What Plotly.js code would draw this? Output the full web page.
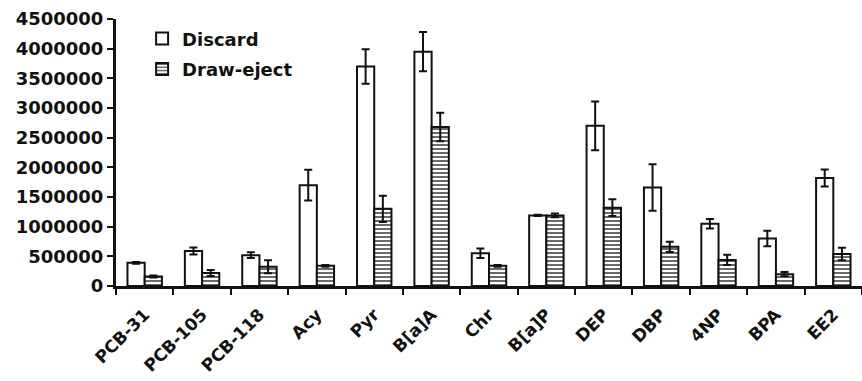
<!DOCTYPE html>
<html>
<head>
<meta charset="utf-8">
<script src="https://cdn.plot.ly/plotly-3.0.1.min.js"></script>
<style>html,body{margin:0;padding:0;background:#fff}#chart{width:862px;height:381px}</style>
</head>
<body>
<div id="chart"></div>
<script>
var categories = ["PCB-31","PCB-105","PCB-118","Acy","Pyr","B[a]A","Chr","B[a]P","DEP","DBP","4NP","BPA","EE2"];
var discard = [390000, 590000, 520000, 1700000, 3700000, 3950000, 550000, 1190000, 2700000, 1660000, 1050000, 800000, 1820000];
var discardErr = [15000, 60000, 50000, 260000, 290000, 330000, 80000, 10000, 410000, 390000, 80000, 130000, 145000];
var drawEject = [160000, 220000, 325000, 340000, 1300000, 2680000, 340000, 1190000, 1320000, 660000, 440000, 200000, 540000];
var drawEjectErr = [15000, 50000, 110000, 15000, 220000, 240000, 15000, 30000, 140000, 85000, 85000, 35000, 105000];
var yTicks = [0, 500000, 1000000, 1500000, 2000000, 2500000, 3000000, 3500000, 4000000, 4500000];

var fontFam = "DejaVu Sans, sans-serif";
var traces = [
  {
    type: "bar", name: "Discard", x: categories, y: discard, legendgroup: "a",
    error_y: {type: "data", array: discardErr, visible: true, color: "#111", thickness: 2, width: 4},
    marker: {color: "#ffffff", line: {color: "#111", width: 2}}
  },
  {
    type: "bar", name: "Draw-eject", x: categories, y: drawEject, legendgroup: "b",
    error_y: {type: "data", array: drawEjectErr, visible: true, color: "#111", thickness: 2, width: 4},
    marker: {color: "#ffffff", line: {color: "#111", width: 2},
      pattern: {shape: "-", size: 4, solidity: 0.4, fgcolor: "#444", bgcolor: "#ffffff"}}
  }
];

var layout = {
  width: 862, height: 381,
  margin: {l: 116, r: 0, t: 19, b: 95},
  paper_bgcolor: "#fff", plot_bgcolor: "#fff",
  barmode: "group", bargap: 0.4, bargroupgap: 0,
  showlegend: true,
  legend: {x: 0.035, y: 0.995, xanchor: "left", yanchor: "top", bgcolor: "rgba(0,0,0,0)",
    font: {family: fontFam, size: 18, color: "#111", weight: "bold"}, itemwidth: 30, tracegroupgap: 4},
  font: {family: fontFam, size: 18, color: "#111"},
  xaxis: {
    type: "category", tickangle: -45, tickson: "boundaries",
    ticks: "outside", ticklen: 6, tickwidth: 2, tickcolor: "#111", ticklabelstandoff: 9,
    showline: true, linecolor: "#111", linewidth: 3, showgrid: false, zeroline: false,
    tickfont: {family: fontFam, size: 17, color: "#111", weight: "bold"}
  },
  yaxis: {
    range: [0, 4500000], tickmode: "array", tickvals: yTicks,
    ticktext: yTicks.map(function(v){return String(v);}),
    ticks: "outside", ticklen: 6, tickwidth: 2, tickcolor: "#111",
    showline: true, linecolor: "#111", linewidth: 3, showgrid: false, zeroline: false,
    tickfont: {family: fontFam, size: 18, color: "#111", weight: "bold"}
  }
};
Plotly.newPlot("chart", traces, layout, {displayModeBar: false, staticPlot: true});
</script>
</body>
</html>
